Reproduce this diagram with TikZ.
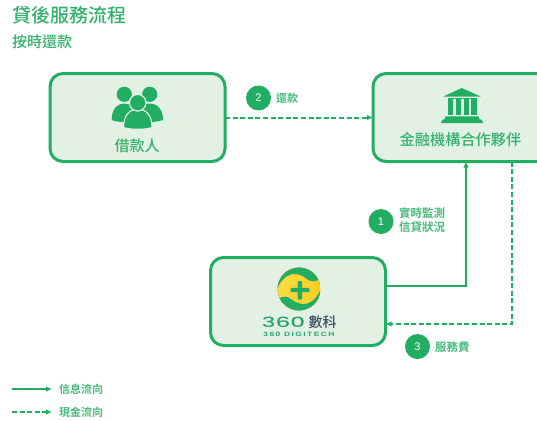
\documentclass[tikz,border=0pt]{standalone}
\usepackage{fontspec}
\usetikzlibrary{arrows.meta,calc}
\setmainfont{Noto Sans CJK TC Medium}
\newfontfamily\boldcjk{Noto Sans CJK TC Bold}
\newfontfamily\latinf{Liberation Sans}
\newfontfamily\popf[FakeStretch=1.65]{Poppins Medium}
\newfontfamily\digif[FakeStretch=1.35,LetterSpace=22]{Liberation Sans Bold}
\definecolor{gr}{HTML}{21AE62}
\definecolor{grtext}{HTML}{33B26D}
\definecolor{grsmall}{HTML}{4ABB7D}
\definecolor{pale}{HTML}{E3F1E5}
\definecolor{teal360}{HTML}{27A56F}
\definecolor{dark360}{HTML}{3D4C5E}
\definecolor{yella}{HTML}{FBDC45}
\definecolor{yellb}{HTML}{F9CE22}
\tikzset{
  card/.style={draw=gr,fill=pale,line width=3pt,rounded corners=13pt,outer sep=0pt,inner sep=0pt},
  flow/.style={draw=gr,line width=2pt,-{Latex[length=6pt,width=5.5pt]}},
  cash/.style={flow,dash pattern=on 5pt off 2.6pt},
  badge/.style={circle,fill=gr,text=white,minimum size=25pt,inner sep=0pt,font=\latinf\fontsize{11}{11}\selectfont},
  head/.style={anchor=west,inner sep=0pt,text=grtext,font=\fontsize{#1}{#1}\selectfont},
  nlabel/.style={anchor=center,inner sep=0pt,text=grtext,font=\fontsize{15}{15}\selectfont},
  small/.style={anchor=west,inner sep=0pt,text=grsmall,font=\boldcjk\fontsize{#1}{11}\selectfont},
  icon/.style={fill=gr,draw=none},
  halo/.style={fill=gr,draw=pale,line width=1.2pt}
}
\begin{document}
\begin{tikzpicture}[x=1pt,y=-1pt]
\clip (0,0) rectangle (537,420);
\fill[white] (0,0) rectangle (537,420);
\node[head=19] (title) at (12,15) {貸後服務流程};
\node[head=15] (sub) at (12,42) {按時還款};
% cards
\node[card,minimum width=175pt,minimum height=88pt] (borrower) at (137.5,117.5) {};
\node[card,minimum width=180pt,minimum height=88pt] (bank) at (463,117.5) {};
\node[card,minimum width=175pt,minimum height=88pt] (tech) at (298,301.5) {};
% connectors
\draw[cash] (borrower.east) -- (bank.west);
\draw[flow] ([yshift=15.5pt]tech.east) -| ([xshift=3pt]bank.south);
\draw[cash] ([xshift=49pt]bank.south) |- ([yshift=-22.5pt]tech.east);
% people icon
\fill[icon] (124.3,94.3) circle (7.6);
\fill[icon] (149.7,94.3) circle (7.6);
\fill[icon] (111.7,120) .. controls (111.7,108) and (118,103.5) .. (124.5,103.5) .. controls (131,103.5) and (137,108) .. (137,120) -- (137,121) .. controls (128,122.5) and (118,122.5) .. (111.7,120) -- cycle;
\fill[icon] (163,120) .. controls (163,108) and (156,103.5) .. (149.5,103.5) .. controls (143,103.5) and (137,108) .. (137,120) -- (137,121) .. controls (146,122.5) and (156,122.5) .. (163,120) -- cycle;
\draw[halo] (123.6,127) .. controls (123.6,115) and (130,109) .. (137.7,109) .. controls (145.5,109) and (152,115) .. (152,127) .. controls (152,130) and (123.6,130) .. (123.6,127) -- cycle;
\draw[halo] (137.7,102.7) circle (8.3);
\node[nlabel] (lborrower) at (137,145.5) {借款人};
% bank icon
\fill[icon] (461.7,88) -- (480.7,96.5) -- (443.3,96.5) -- cycle;
\fill[icon] (447.5,97.6) rectangle (477,99.2);
\foreach \cx in {448,455.8,463.6,471.4}{\fill[icon] (\cx,99) rectangle ++(5.2,16.3);}
\fill[icon] (445.5,116.3) -- (478.5,116.3) -- (479.5,119.3) -- (481.5,119.8) -- (483,123) -- (441,123) -- (442.5,119.8) -- (444.5,119.3) -- cycle;
\node[nlabel,font=\fontsize{15.2}{15}\selectfont] (lbank) at (460.5,139.5) {金融機構合作夥伴};
% badges + labels
\node[badge] (b2) at (258.5,98) {2};
\node[small=11] (l2) at (276,98) {還款};
\node[badge] (b1) at (381,221.5) {1};
\node[small=11.5] (l1a) at (399,213) {實時監測};
\node[small=11.5] (l1b) at (399,227) {信貸狀況};
\node[badge] (b3) at (417.5,346.5) {3};
\node[small=11.5] (l3) at (435,347) {服務費};
% 360 logo
\begin{scope}
\clip (299,289) circle (21.4);
\fill[left color=yella,right color=yellb] (277,267) rectangle (321,311);
\fill[gr] (277,289) .. controls (280,282) and (284.5,276.5) .. (290.5,274.5) .. controls (295,273) and (302,274.5) .. (307,279) .. controls (310,281.5) and (314,282.5) .. (319.5,279.5) -- (325,278) -- (325,262) -- (272,262) -- (272,289) -- cycle;
\fill[gr] (321,289) .. controls (318,296) and (313.5,301.5) .. (307.5,303.5) .. controls (303,305) and (296,303.5) .. (291,299) .. controls (288,296.5) and (284,295.5) .. (278.5,298.5) -- (273,300) -- (273,316) -- (326,316) -- (326,289) -- cycle;
\end{scope}
\fill[gr,rounded corners=1pt] (297.5,281) rectangle (302,299.5);
\fill[gr,rounded corners=1pt] (290.5,287.8) rectangle (309.5,292.2);
\node[inner sep=0pt,text=teal360,font=\popf\fontsize{14}{14}\selectfont] (n360) at (283.5,322.5) {360};
\node[inner sep=0pt,text=dark360,font=\fontsize{14}{14}\selectfont] (nshu) at (322.5,322.5) {數科};
\node[inner sep=0pt,text=teal360,font=\digif\fontsize{6.3}{6.3}\selectfont] (ndigi) at (299,334) {360 DIGITECH};
% legend
\coordinate (a1) at (12,389); \coordinate (a2) at (52,389);
\coordinate (c1) at (12,412); \coordinate (c2) at (52,412);
\draw[flow] (a1) -- (a2);
\draw[cash] (c1) -- (c2);
\node[small=11] (li) at (59,389) {信息流向};
\node[small=11] (lc) at (59,412) {現金流向};
\end{tikzpicture}
\end{document}
